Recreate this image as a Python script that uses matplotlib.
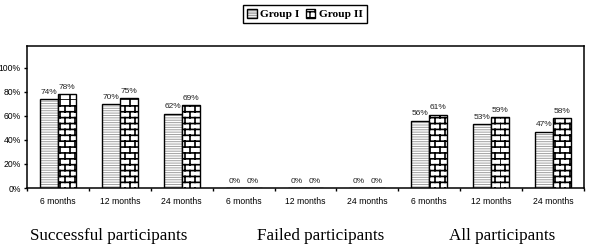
import warnings
import numpy as np
import matplotlib
matplotlib.use("Agg")
import matplotlib.pyplot as plt
import matplotlib.patches as mpatches
from matplotlib import hatch as mhatch
from matplotlib.path import Path
from matplotlib.legend_handler import HandlerTuple

warnings.simplefilter("ignore")

# =========================
# data
# =========================
months = ["6 months", "12 months", "24 months"] * 3
groups = ["Successful participants", "Failed participants", "All participants"]
group_1 = [74, 70, 62, 0, 0, 0, 56, 53, 47]
group_2 = [78, 75, 69, 0, 0, 0, 61, 59, 58]
y_ticks = [0, 20, 40, 60, 80, 100]


# =========================
# brick hatch ('b')
# =========================
class BrickHatch(mhatch.HatchPatternBase):
    rows = 17
    cols = 10

    def __init__(self, hatch, density):
        self.on = "b" in hatch
        self.num_vertices = (self.rows * 2 + self.rows * self.cols * 2) if self.on else 0

    def set_vertices_and_codes(self, vertices, codes):
        pts = []
        for r in range(self.rows):
            y0 = r / self.rows
            y1 = (r + 1) / self.rows
            pts += [(0, y0), (1, y0)]
            off = 0.5 / self.cols if r % 2 else 0.0
            for c in range(self.cols):
                x = c / self.cols + off
                pts += [(x, y0), (x, y1)]
        vertices[:] = pts
        codes[0::2] = Path.MOVETO
        codes[1::2] = Path.LINETO


mhatch._hatch_types.append(BrickHatch)


def hatch_lw(container, lw):
    for p in container:
        if hasattr(p, "set_hatch_linewidth"):
            p.set_hatch_linewidth(lw)


SANS = "Liberation Sans"
SERIF = "Liberation Serif"

fig = plt.figure(figsize=(5.89, 2.45), dpi=100)
ax = fig.add_axes([27 / 589, 57 / 245, 557 / 589, 142 / 245])

x = np.arange(len(months))
w = 0.29

# group I: gray horizontal lines + black outline
b1 = ax.bar(x - w / 2, group_1, w, color="white", edgecolor="#a0a0a0",
            linewidth=0, hatch="-" * 7, zorder=2)
hatch_lw(b1, 0.7)
o1 = ax.bar(x - w / 2, group_1, w, fill=False, edgecolor="black",
            linewidth=1.0, zorder=3)
# group II: bricks
b2 = ax.bar(x + w / 2, group_2, w, color="white", edgecolor="black",
            linewidth=1.0, hatch="b", zorder=3)
hatch_lw(b2, 1.2)

for xs, vals in ((x - w / 2, group_1), (x + w / 2, group_2)):
    for xi, v in zip(xs, vals):
        ax.annotate(f"{v}%", (xi, v), xytext=(0, 2.5), textcoords="offset points",
                    ha="center", va="bottom", fontsize=6, family=SANS, color="#222222")

ax.set_xlim(-0.5, len(months) - 0.5)
ax.set_ylim(0, 118.3)
ax.set_yticks(y_ticks)
ax.set_yticklabels([f"{t}%" for t in y_ticks], family=SANS, fontsize=6.2)
ax.set_xticks(x)
ax.set_xticklabels(months, family=SANS, fontsize=6.2)
ax.set_xticks(np.arange(len(months) + 1) - 0.5, minor=True)
ax.tick_params(axis="x", which="major", length=0, pad=6.5)
ax.tick_params(axis="x", which="minor", length=2.5, width=1.0, direction="out")
ax.tick_params(axis="y", length=2.5, width=1.0, pad=2)
for s in ax.spines.values():
    s.set_linewidth(1.1)

# group titles under the axis
for label, fx in zip(groups, [109, 321, 502]):
    fig.text(fx / 589, 5 / 245, label, ha="center", va="baseline",
             family=SERIF, fontsize=12.3)

# legend
h1 = (mpatches.Patch(facecolor="white", edgecolor="#a0a0a0", linewidth=0, hatch="-" * 7),
      mpatches.Patch(fill=False, edgecolor="black", linewidth=1.0))
h2 = mpatches.Patch(facecolor="white", edgecolor="black", linewidth=1.0, hatch="b")
leg = fig.legend([h1, h2], ["Group I", "Group II"], loc="center",
                 bbox_to_anchor=(305 / 589, 1 - 14 / 245), ncol=2,
                 handler_map={tuple: HandlerTuple(ndivide=1, pad=0)},
                 prop={"family": SERIF, "weight": "bold", "size": 8.2},
                 frameon=True, fancybox=False, framealpha=1, edgecolor="black",
                 handlelength=0.8, handleheight=0.8, handletextpad=0.3,
                 columnspacing=0.6, borderpad=0.35)
leg.get_frame().set_linewidth(1.0)

fig.savefig("out.png", dpi=100)
